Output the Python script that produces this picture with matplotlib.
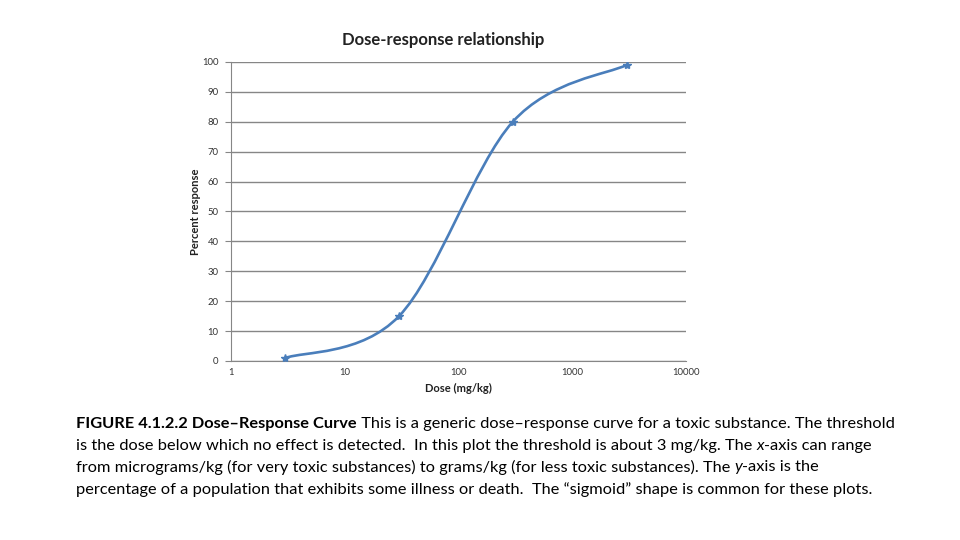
import numpy as np
import matplotlib
matplotlib.use("Agg")
import matplotlib.pyplot as plt
from matplotlib.path import Path
from matplotlib.patches import PathPatch

# data
dose = [3, 30, 300, 3000]
response = [1, 15, 80, 99]
y_ticks = [0, 10, 20, 30, 40, 50, 60, 70, 80, 90, 100]
x_ticks = [1, 10, 100, 1000, 10000]
x_tick_labels = ["1", "10", "100", "1000", "10000"]

# caption as (text, style) runs per line
caption_lines = [
    [("FIGURE 4.1.2.2 Dose\u2013Response Curve", "bold"),
     (" This is a generic dose\u2013response curve for a toxic substance. The threshold", "normal")],
    [("is the dose below which no effect is detected.  In this plot the threshold is about 3 mg/kg. The ", "normal"),
     ("x", "italic"), ("-axis can range", "normal")],
    [("from micrograms/kg (for very toxic substances) to grams/kg (for less toxic substances). The ", "normal"),
     ("y", "italic"), ("-axis is the", "normal")],
    [("percentage of a population that exhibits some illness or death.  The \u201csigmoid\u201d shape is common for these plots.", "normal")],
]

plt.rcParams["font.family"] = ["Lato", "DejaVu Sans"]
LINE = "#4A7EBB"
GRID = "#868686"

fig = plt.figure(figsize=(9.6, 5.4), dpi=100)
ax = fig.add_axes([0.2406, 0.3315, 0.474, 0.5537])
ax.set_xscale("log")
ax.set_xlim(1, 10000)
ax.set_ylim(0, 100)

# smoothed line (Bezier path in log-x space, like a spreadsheet "smooth line")
lx = np.log10(dose)
pts = np.column_stack([lx, response])
verts = [pts[0]]
codes = [Path.MOVETO]
n = len(pts)
for i in range(n - 1):
    p0 = pts[i - 1] if i > 0 else pts[i]
    p1, p2 = pts[i], pts[i + 1]
    p3 = pts[i + 2] if i + 2 < n else pts[i + 1]
    c1 = p1 + (p2 - p0) / 6.0
    c2 = p2 - (p3 - p1) / 6.0
    verts += [c1, c2, p2]
    codes += [Path.CURVE4] * 3
verts = np.array(verts)
verts[:, 0] = 10 ** verts[:, 0]
ax.add_patch(PathPatch(Path(verts, codes), fill=False, edgecolor=LINE, lw=1.9, zorder=3))
ax.plot(dose, response, linestyle="none", marker="*", ms=6, color=LINE, zorder=4)

ax.set_yticks(y_ticks)
ax.set_xticks(x_ticks)
ax.set_xticklabels(x_tick_labels)
ax.minorticks_off()
ax.yaxis.grid(True, color=GRID, lw=1)
ax.set_axisbelow(True)
for s in ["top", "right"]:
    ax.spines[s].set_visible(False)
for s in ["left", "bottom"]:
    ax.spines[s].set_color(GRID)
ax.tick_params(axis="both", length=0, labelsize=6.8, colors="#333333", pad=5)
ax.tick_params(axis="y", length=4, direction="out", color=GRID)
ax.set_xlabel("Dose (mg/kg)", fontsize=8, fontweight="bold", color="#222222", labelpad=4)
ax.set_ylabel("Percent response", fontsize=8, fontweight="bold", color="#222222", labelpad=1)
fig.text(0.4615, 0.925, "Dose-response relationship", ha="center", va="center",
         fontsize=12, fontweight="bold", color="#222222")

# caption
fs = 11.75
x0 = 76 / 960
y0 = 1 - 424 / 540
dy = 21.7 / 540
fig.canvas.draw()
renderer = fig.canvas.get_renderer()
for k, runs in enumerate(caption_lines):
    x = x0
    for txt, style in runs:
        kw = {}
        if style == "bold":
            kw["fontweight"] = "bold"
        elif style == "italic":
            kw["fontstyle"] = "italic"
        t = fig.text(x, y0 - k * dy, txt, fontsize=fs, va="center", color="black", **kw)
        bb = t.get_window_extent(renderer=renderer)
        x = bb.x1 / fig.bbox.width

fig.savefig("out.png", dpi=100)
